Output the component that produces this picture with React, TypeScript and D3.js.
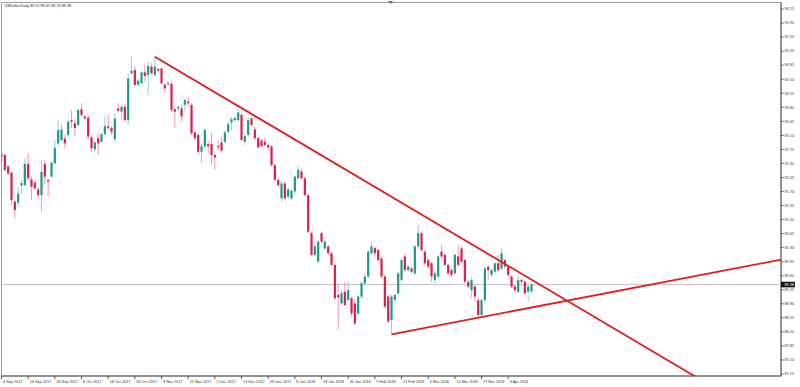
import React, { useRef, useEffect } from "react";
import * as d3 from "d3";

// USDollar, daily bars from 4 Sep 2017 to 18 Apr 2018 (weekdays, holidays skipped)
const opens = [
  92.63, 92.61, 92.32, 92.17, 91.45, 91.42, 91.85, 91.86, 92.39, 92.0,
  91.92, 91.75, 91.61, 92.39, 91.99, 92.07, 92.4, 92.9, 92.98, 93.02,
  93.11, 93.48, 93.4, 93.36, 93.75, 93.57, 93.54, 93.05, 92.75, 93.03,
  92.94, 93.13, 93.32, 93.28, 93.0, 93.77, 93.69, 93.81, 93.48, 94.65,
  94.73, 94.36, 94.4, 94.67, 94.6, 94.81, 94.6, 94.75, 94.77, 94.36,
  94.4, 94.38, 93.75, 93.77, 93.77, 93.86, 93.94, 93.86, 93.17, 93.11,
  92.69, 92.82, 92.88, 92.88, 92.61, 92.83, 92.92, 92.94, 93.19, 93.42,
  93.48, 93.48, 93.61, 92.94, 93.11, 93.52, 93.25, 93.03, 92.97, 92.94,
  92.86, 92.82, 92.36, 91.99, 91.53, 91.9, 91.57, 91.53, 91.7, 92.03,
  92.2, 92.03, 91.61, 90.66, 90.12, 89.95, 90.66, 90.28, 90.33, 90.16,
  89.87, 89.12, 88.91, 89.2, 89.0, 89.04, 88.91, 88.66, 89.08, 89.41,
  89.58, 90.16, 90.29, 90.24, 90.03, 89.58, 89.08, 88.5, 89.0, 89.16,
  89.5, 90.08, 89.74, 89.78, 89.66, 90.33, 90.66, 90.2, 89.99, 89.91,
  89.49, 89.58, 90.2, 90.12, 89.87, 89.74, 89.66, 90.08, 90.28, 89.99,
  89.45, 89.24, 89.33, 88.99, 88.62, 88.99, 89.82, 89.62, 89.7, 89.91,
  89.78, 89.99, 89.83, 89.58, 89.33, 89.2, 89.49, 89.45, 89.2, 89.21,
];
const highs = [
  92.67, 92.65, 92.36, 92.19, 91.49, 91.82, 91.99, 92.53, 92.65, 92.07,
  91.99, 91.82, 92.49, 92.49, 92.0, 92.44, 92.98, 93.48, 93.36, 93.11,
  93.5, 93.73, 93.48, 93.77, 93.9, 93.61, 93.61, 93.11, 92.98, 93.15,
  93.17, 93.57, 93.61, 93.33, 93.65, 93.9, 93.86, 93.9, 94.65, 95.06,
  94.81, 94.52, 94.71, 94.85, 94.94, 94.9, 95.06, 94.77, 94.77, 94.4,
  94.44, 94.44, 93.81, 93.86, 93.86, 94.02, 94.06, 93.9, 93.23, 93.15,
  92.9, 93.28, 92.98, 93.15, 92.65, 92.98, 93.07, 93.23, 93.44, 93.57,
  93.58, 93.77, 93.65, 93.15, 93.55, 93.57, 93.32, 93.07, 93.03, 93.03,
  92.9, 92.86, 92.4, 92.03, 91.95, 91.95, 91.8, 91.75, 92.11, 92.34,
  92.28, 92.07, 91.65, 90.7, 90.41, 90.49, 90.7, 90.49, 90.37, 90.2,
  89.91, 89.41, 89.24, 89.45, 89.45, 89.08, 89.0, 89.12, 89.45, 89.66,
  90.24, 90.45, 90.33, 90.28, 90.08, 89.62, 89.12, 89.12, 89.16, 89.7,
  90.03, 90.16, 89.87, 89.83, 90.37, 90.87, 90.7, 90.24, 90.03, 89.95,
  89.74, 90.12, 90.37, 90.16, 89.91, 89.78, 90.16, 90.37, 90.32, 90.03,
  89.49, 89.58, 89.37, 89.04, 89.04, 89.83, 89.87, 89.78, 89.95, 90.12,
  90.28, 90.03, 89.87, 89.62, 89.37, 89.62, 89.53, 89.49, 89.37, 89.41,
];
const lows = [
  92.44, 92.19, 92.11, 91.36, 91.03, 91.32, 91.65, 91.82, 91.99, 91.49,
  91.74, 91.53, 91.2, 91.9, 91.57, 92.05, 92.36, 92.82, 92.94, 92.78,
  93.07, 93.28, 93.07, 93.32, 93.55, 93.48, 92.98, 92.69, 92.69, 92.61,
  92.92, 93.11, 93.23, 93.11, 92.98, 93.69, 93.48, 93.44, 93.36, 94.6,
  94.33, 94.31, 94.37, 94.42, 94.11, 94.6, 94.6, 94.69, 94.36, 94.15,
  94.36, 93.69, 93.3, 93.69, 93.44, 93.69, 93.81, 93.11, 92.98, 92.65,
  92.42, 92.78, 92.65, 92.36, 92.24, 92.73, 92.69, 92.9, 93.15, 93.23,
  93.44, 93.44, 92.98, 92.86, 93.07, 93.32, 92.98, 92.78, 92.8, 92.82,
  92.73, 92.32, 91.95, 91.82, 91.45, 91.49, 91.53, 91.49, 91.65, 91.99,
  91.99, 91.57, 90.66, 90.08, 90.08, 89.91, 90.41, 90.24, 90.12, 89.83,
  88.99, 88.25, 88.87, 88.83, 88.95, 88.58, 88.37, 88.62, 89.04, 89.37,
  89.54, 90.12, 90.08, 89.95, 89.54, 88.79, 88.41, 88.14, 88.95, 89.12,
  89.45, 89.7, 89.7, 89.66, 89.62, 90.29, 90.2, 89.87, 89.78, 89.45,
  89.41, 89.54, 90.03, 89.83, 89.62, 89.58, 89.62, 89.83, 89.91, 89.41,
  89.29, 89.04, 88.99, 88.57, 88.57, 88.95, 89.49, 89.58, 89.66, 89.7,
  89.74, 89.78, 89.58, 89.29, 89.2, 89.16, 89.41, 89.12, 88.95, 89.19,
];
const closes = [
  92.57, 92.24, 92.15, 91.49, 91.24, 91.65, 91.91, 92.39, 92.03, 91.82,
  91.78, 91.61, 92.19, 92.07, 91.95, 92.42, 92.78, 93.23, 93.25, 92.9,
  93.44, 93.44, 93.28, 93.73, 93.61, 93.52, 93.07, 92.78, 92.92, 92.9,
  93.13, 93.33, 93.28, 93.19, 93.52, 93.71, 93.81, 93.48, 94.52, 94.71,
  94.36, 94.46, 94.67, 94.58, 94.83, 94.65, 94.81, 94.71, 94.4, 94.27,
  94.37, 93.73, 93.69, 93.81, 93.57, 93.98, 93.9, 93.15, 93.03, 92.69,
  92.83, 93.23, 92.83, 92.61, 92.55, 92.8, 92.72, 93.17, 93.38, 93.5,
  93.53, 93.67, 92.98, 93.08, 93.48, 93.36, 93.03, 92.8, 92.83, 92.86,
  92.8, 92.36, 91.99, 91.86, 91.9, 91.53, 91.75, 91.72, 92.07, 92.24,
  92.03, 91.61, 90.7, 90.12, 90.33, 90.45, 90.45, 90.45, 90.16, 89.87,
  89.04, 89.06, 89.16, 88.87, 89.24, 88.66, 88.41, 89.08, 89.41, 89.58,
  90.2, 90.33, 90.16, 89.99, 89.58, 88.83, 88.46, 89.08, 89.12, 89.66,
  89.99, 89.74, 89.83, 89.7, 90.33, 90.66, 90.24, 89.91, 89.83, 89.58,
  89.66, 90.08, 90.08, 89.87, 89.66, 89.62, 90.12, 89.87, 89.95, 89.45,
  89.33, 89.49, 89.08, 88.62, 88.99, 89.78, 89.74, 89.74, 89.91, 89.74,
  90.16, 89.83, 89.62, 89.33, 89.24, 89.49, 89.45, 89.16, 89.33, 89.38,
];

// one date label every 8 bars
const xTickLabels = [
  "4 Sep 2017", "14 Sep 2017", "26 Sep 2017", "6 Oct 2017", "18 Oct 2017",
  "30 Oct 2017", "9 Nov 2017", "21 Nov 2017", "1 Dec 2017", "13 Dec 2017",
  "26 Dec 2017", "8 Jan 2018", "18 Jan 2018", "30 Jan 2018", "9 Feb 2018",
  "21 Feb 2018", "5 Mar 2018", "15 Mar 2018", "27 Mar 2018", "9 Apr 2018",
];
const xTickStep = 8;

const yTickLabels = [
  "96.25", "95.90", "95.55", "95.20", "94.85", "94.50", "94.15", "93.80", "93.45",
  "93.10", "92.75", "92.40", "92.05", "91.70", "91.35", "91.00", "90.65", "90.30",
  "89.95", "89.60", "89.25", "88.90", "88.55", "88.20", "87.85", "87.50", "87.15",
];

// trend lines: [bar index, price] anchors, drawn as rays to the right
const upperTrend = [[46, 95.06], [120, 91.42]];
const lowerTrend = [[117, 88.14], [144, 88.57]];

const title = "USDollar,Daily  89.21 89.41 89.19 89.38";
const bid = 89.38;

const App = () => {
  const svgRef = useRef(null);

  useEffect(() => {
    const svg = d3.select(svgRef.current);
    svg.selectAll("*").remove();

    const width = 800;
    const height = 387;
    const plot = { left: 1.5, right: 781, top: 2.5, bottom: 376 };
    const font = "'Liberation Sans', Arial, sans-serif";

    const x = d3.scaleLinear().domain([0, 152]).range([1.5, 508.2]);
    const y = d3.scaleLinear().domain([87.15, 96.25]).range([374, 9]);

    svg.append("rect").attr("width", width).attr("height", height).attr("fill", "#fff");

    svg.append("defs")
      .append("clipPath")
      .attr("id", "plot-clip")
      .append("rect")
      .attr("x", plot.left)
      .attr("y", plot.top)
      .attr("width", plot.right - plot.left)
      .attr("height", plot.bottom - plot.top);

    // frame
    svg.append("rect")
      .attr("x", plot.left)
      .attr("y", plot.top)
      .attr("width", plot.right - plot.left)
      .attr("height", plot.bottom - plot.top)
      .attr("fill", "none")
      .attr("stroke", "#a0a0a0")
      .attr("stroke-width", 1);
    svg.append("line")
      .attr("x1", plot.left).attr("x2", plot.right)
      .attr("y1", plot.bottom).attr("y2", plot.bottom)
      .attr("stroke", "#555");
    svg.append("line")
      .attr("x1", plot.right).attr("x2", plot.right)
      .attr("y1", plot.top).attr("y2", plot.bottom)
      .attr("stroke", "#555");

    // little shift marker at top
    svg.append("path")
      .attr("d", "M388,1 L393,1 L390.5,4 Z")
      .attr("fill", "#666");

    // title
    svg.append("text")
      .attr("x", 4.5)
      .attr("y", 7)
      .attr("font-family", font)
      .attr("font-size", 3.8)
      .attr("fill", "#222")
      .text(title);

    const g = svg.append("g").attr("clip-path", "url(#plot-clip)");

    // bid line
    g.append("line")
      .attr("x1", plot.left).attr("x2", plot.right)
      .attr("y1", y(bid)).attr("y2", y(bid))
      .attr("stroke", "#c4c4c4")
      .attr("stroke-width", 1);

    const bars = d3.range(opens.length).map((i) => ({
      i,
      o: opens[i],
      h: highs[i],
      l: lows[i],
      c: closes[i],
    }));
    const up = "#1b9a8a";
    const down = "#dd1d4d";

    g.selectAll(".wick")
      .data(bars)
      .enter()
      .append("line")
      .attr("class", "wick")
      .attr("x1", (d) => x(d.i))
      .attr("x2", (d) => x(d.i))
      .attr("y1", (d) => y(d.h))
      .attr("y2", (d) => y(d.l))
      .attr("stroke", (d) => (d.c >= d.o ? up : down))
      .attr("stroke-opacity", 0.45)
      .attr("stroke-width", 1);

    g.selectAll(".body")
      .data(bars)
      .enter()
      .append("rect")
      .attr("class", "body")
      .attr("x", (d) => x(d.i) - 1.1)
      .attr("width", 2.2)
      .attr("y", (d) => y(Math.max(d.o, d.c)))
      .attr("height", (d) => Math.max(0.8, Math.abs(y(d.o) - y(d.c))))
      .attr("fill", (d) => (d.c >= d.o ? up : down));

    // trend rays
    const ray = (pts) => {
      const [[i1, p1], [i2, p2]] = pts;
      const slope = (p2 - p1) / (i2 - i1);
      const iEnd = x.invert(plot.right + 20);
      return [
        [x(i1), y(p1)],
        [x(iEnd), y(p1 + slope * (iEnd - i1))],
      ];
    };
    [upperTrend, lowerTrend].forEach((t) => {
      g.append("path")
        .attr("d", d3.line()(ray(t)))
        .attr("stroke", "#e01e1e")
        .attr("stroke-width", 1.8)
        .attr("fill", "none");
    });

    // price axis
    const ya = svg.append("g");
    yTickLabels.forEach((t) => {
      const ty = y(+t);
      ya.append("line")
        .attr("x1", plot.right).attr("x2", plot.right + 2.5)
        .attr("y1", ty).attr("y2", ty)
        .attr("stroke", "#555");
      ya.append("text")
        .attr("x", plot.right + 3.5)
        .attr("y", ty)
        .attr("dy", "0.35em")
        .attr("font-family", font)
        .attr("font-size", 3.8)
        .attr("fill", "#333")
        .text(t);
    });

    // bid box
    ya.append("rect")
      .attr("x", plot.right)
      .attr("y", y(bid) - 2.8)
      .attr("width", 14)
      .attr("height", 5.6)
      .attr("fill", "#111");
    ya.append("text")
      .attr("x", plot.right + 3.5)
      .attr("y", y(bid))
      .attr("dy", "0.35em")
      .attr("font-family", font)
      .attr("font-size", 3.8)
      .attr("fill", "#fff")
      .text(bid.toFixed(2));

    // time axis
    const xa = svg.append("g");
    xTickLabels.forEach((t, k) => {
      const tx = x(k * xTickStep);
      xa.append("line")
        .attr("x1", tx).attr("x2", tx)
        .attr("y1", plot.bottom).attr("y2", plot.bottom + 3)
        .attr("stroke", "#555");
      xa.append("text")
        .attr("x", tx + 1.5)
        .attr("y", plot.bottom + 6.5)
        .attr("font-family", font)
        .attr("font-size", 3.8)
        .attr("fill", "#333")
        .text(t);
    });
  }, []);

  return (
    <svg
      ref={svgRef}
      width={800}
      height={387}
      style={{ position: "absolute", left: 0, top: 0 }}
    />
  );
};

export default App;
